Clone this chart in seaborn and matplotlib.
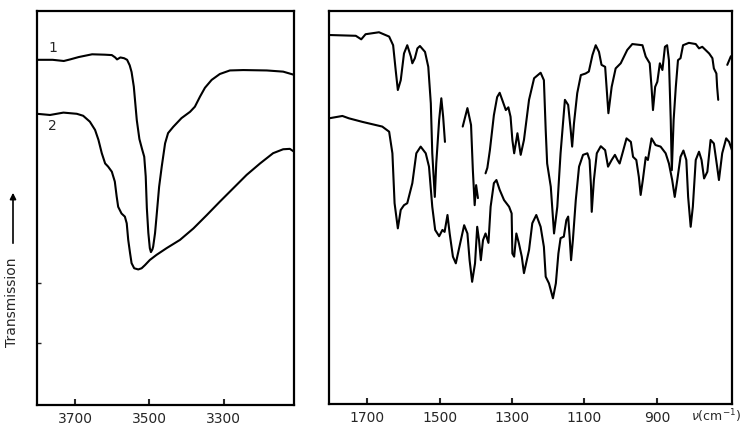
import seaborn as sns
import matplotlib.pyplot as plt
import pandas as pd

sns.set_style('white')
plt.rcParams['font.family'] = ['DejaVu Sans']

# --- O-H stretching region (left panel), wavenumber in cm-1, transmission in % of frame ---
oh_wn_1 = [3802, 3760, 3730, 3713, 3690, 3654, 3620, 3601, 3592, 3587, 3578, 3568,
           3560, 3553, 3548, 3542, 3534, 3527, 3520, 3514, 3510, 3507, 3503, 3499,
           3496, 3492, 3490, 3485, 3481, 3474, 3467, 3458, 3450, 3436, 3414, 3391,
           3378, 3364, 3351, 3333, 3311, 3284, 3248, 3185, 3141, 3112]
oh_tr_1 = [87.6, 87.6, 87.3, 87.7, 88.3, 89.0, 88.9, 88.8, 88.2, 87.7, 88.2, 88.0,
           87.6, 86.2, 84.5, 80.8, 72.3, 67.5, 65.0, 63.0, 58.0, 50.0, 43.7, 39.8,
           38.8, 39.5, 40.2, 43.6, 47.8, 55.4, 60.5, 66.4, 69.0, 70.6, 72.8, 74.4,
           75.7, 78.3, 80.5, 82.5, 84.0, 84.9, 85.0, 84.9, 84.6, 83.8]

oh_wn_2 = [3802, 3767, 3731, 3695, 3678, 3660, 3646, 3637, 3628, 3619, 3611, 3601,
           3593, 3588, 3584, 3575, 3566, 3561, 3557, 3552, 3548, 3541, 3530, 3521,
           3512, 3499, 3481, 3454, 3418, 3382, 3346, 3311, 3275, 3239, 3203, 3168,
           3141, 3123, 3112]
oh_tr_2 = [73.9, 73.6, 74.2, 73.9, 73.4, 71.9, 69.8, 67.3, 63.9, 61.3, 60.5, 59.2,
           56.7, 52.9, 50.3, 48.6, 47.8, 46.1, 41.9, 38.5, 36.0, 34.7, 34.4, 34.7,
           35.5, 36.8, 38.1, 39.8, 41.9, 44.8, 48.2, 51.6, 55.0, 58.4, 61.3, 63.9,
           64.9, 65.0, 64.3]

# --- fingerprint region (right panel), curve 1 is drawn in pieces ---
fp_wn_1a = [1805, 1731, 1716, 1704, 1667, 1639, 1628, 1621, 1615, 1607, 1598, 1589,
            1579, 1575, 1568, 1561, 1554, 1540, 1531, 1524, 1520, 1513, 1509, 1501,
            1495, 1490, 1485]
fp_tr_1a = [93.9, 93.7, 92.8, 94.1, 94.6, 93.5, 91.3, 85.0, 79.9, 82.4, 89.2, 91.3,
            88.4, 86.7, 88.0, 90.5, 91.1, 89.6, 85.8, 76.5, 63.8, 52.7, 61.2, 72.3,
            77.8, 73.1, 66.7]

fp_wn_1b = [1436, 1423, 1413, 1408, 1403, 1399, 1394]
fp_tr_1b = [70.6, 75.3, 71.0, 59.5, 50.6, 55.7, 52.4]

fp_wn_1c = [1373, 1368, 1361, 1350, 1341, 1334, 1327, 1317, 1310, 1304, 1299, 1294,
            1285, 1276, 1267, 1253, 1239, 1221, 1212, 1207, 1203, 1193, 1184, 1175,
            1166, 1154, 1145, 1138, 1134, 1129, 1120, 1110, 1097, 1088, 1078, 1069,
            1060, 1053, 1043, 1034, 1025, 1014, 1000, 982, 968, 940, 931, 920,
            915, 911, 905, 899, 892, 885, 878, 872, 867, 862, 859, 854,
            848, 842, 835, 828, 812, 793, 784, 775, 756, 747, 743, 736,
            734, 731]
fp_tr_1c = [58.7, 60.1, 64.6, 73.5, 78.1, 79.2, 77.4, 74.8, 75.5, 73.1, 67.2, 63.8,
            68.9, 63.4, 67.2, 77.4, 82.9, 84.3, 82.4, 69.7, 61.2, 55.3, 43.4, 50.2,
            63.8, 77.4, 76.1, 69.7, 65.5, 71.4, 79.1, 83.7, 84.1, 84.6, 88.8, 91.3,
            89.6, 86.3, 85.8, 74.0, 80.7, 85.4, 86.7, 90.1, 91.6, 91.3, 88.4, 86.7,
            80.7, 74.8, 80.7, 82.0, 86.7, 85.0, 90.9, 91.3, 87.5, 72.3, 59.5, 72.3,
            80.7, 87.5, 88.0, 91.3, 91.9, 91.6, 90.5, 90.9, 89.2, 88.0, 85.4, 84.1,
            80.7, 77.4]

fp_wn_1d = [706, 696, 690]
fp_tr_1d = [86.3, 88.5, 87.5]

fp_wn_2 = [1805, 1768, 1750, 1713, 1658, 1639, 1630, 1624, 1615, 1607, 1598, 1589,
           1575, 1564, 1552, 1538, 1529, 1520, 1512, 1501, 1492, 1486, 1478, 1472,
           1463, 1455, 1443, 1432, 1423, 1417, 1410, 1402, 1396, 1391, 1386, 1380,
           1373, 1365, 1359, 1350, 1343, 1334, 1322, 1308, 1301, 1299, 1294, 1288,
           1281, 1273, 1267, 1253, 1244, 1233, 1221, 1212, 1207, 1198, 1187, 1179,
           1172, 1166, 1157, 1150, 1145, 1141, 1137, 1132, 1124, 1115, 1104, 1092,
           1086, 1082, 1080, 1074, 1066, 1055, 1043, 1035, 1025, 1016, 1009, 1003,
           994, 984, 972, 966, 957, 950, 945, 939, 931, 925, 915, 904,
           890, 876, 867, 858, 851, 844, 835, 827, 819, 814, 807, 801,
           793, 784, 777, 770, 761, 752, 743, 734, 729, 720, 709, 701, 690]
fp_tr_2 = [72.7, 73.3, 72.7, 71.8, 70.6, 69.3, 63.8, 51.1, 44.7, 49.4, 50.6, 51.1,
           56.2, 63.8, 65.5, 63.8, 60.4, 50.2, 44.3, 42.7, 44.3, 43.8, 48.1, 43.4,
           37.5, 35.8, 40.9, 45.5, 43.4, 36.6, 31.1, 35.8, 45.1, 41.7, 36.6, 41.7,
           43.4, 41.0, 50.2, 56.2, 57.0, 54.5, 51.9, 50.2, 48.5, 38.3, 37.5, 43.4,
           40.9, 37.5, 33.3, 39.2, 46.0, 48.1, 45.1, 40.0, 32.4, 30.7, 26.9, 30.7,
           38.3, 42.2, 42.6, 46.8, 47.7, 42.6, 36.6, 41.7, 51.9, 60.4, 63.4, 63.8,
           62.1, 55.3, 48.9, 57.0, 63.8, 65.6, 64.6, 60.4, 62.1, 63.4, 62.1, 61.2,
           64.2, 67.6, 66.7, 62.9, 62.1, 57.8, 53.2, 57.0, 62.8, 62.1, 67.6, 65.9,
           65.5, 63.8, 61.2, 57.0, 52.7, 57.0, 62.9, 64.5, 62.1, 52.7, 45.1, 50.2,
           62.1, 64.2, 62.1, 57.4, 59.1, 67.2, 66.3, 60.4, 57.0, 63.8, 67.6, 66.7, 63.8]

oh_ticks = [3700, 3500, 3300]
fp_ticks = [1700, 1500, 1300, 1100, 900]
oh_minor_y = [15.7, 31.0]

fig = plt.figure(figsize=(7.47, 4.26), dpi=100)
ax1 = fig.add_axes([0.0495, 0.0493, 0.344, 0.925])
ax2 = fig.add_axes([0.4404, 0.0516, 0.5395, 0.9225])

lw = 1.5
segments_left = [(oh_wn_1, oh_tr_1), (oh_wn_2, oh_tr_2)]
segments_right = [(fp_wn_1a, fp_tr_1a), (fp_wn_1b, fp_tr_1b), (fp_wn_1c, fp_tr_1c),
                  (fp_wn_1d, fp_tr_1d), (fp_wn_2, fp_tr_2)]

for ax, segs in [(ax1, segments_left), (ax2, segments_right)]:
    for wn, tr in segs:
        df = pd.DataFrame({'wn': wn, 'tr': tr})
        sns.lineplot(data=df, x='wn', y='tr', ax=ax, color='black', lw=lw,
                     sort=False, estimator=None, solid_joinstyle='round',
                     solid_capstyle='round')

ax1.set_xlim(3802, 3112)
ax2.set_xlim(1805, 693)
for ax in (ax1, ax2):
    ax.set_ylim(0, 100)
    ax.set_xlabel('')
    ax.set_ylabel('')
    for s in ax.spines.values():
        s.set_linewidth(1.6)
        s.set_color('black')
    ax.tick_params(axis='x', direction='in', length=4, width=1.5, pad=5,
                   labelsize=10, bottom=True)

ax1.set_xticks(oh_ticks)
ax1.set_xticklabels([str(t) for t in oh_ticks])
ax1.set_yticks(oh_minor_y)
ax1.set_yticklabels([])
ax1.tick_params(axis='y', direction='in', length=3, width=1, left=True)
ax2.set_xticks(fp_ticks)
ax2.set_xticklabels([str(t) for t in fp_ticks])
ax2.set_yticks([])

ax1.text(3759, 90.6, '1', fontsize=10, ha='center', va='center')
ax1.text(3761, 70.8, '2', fontsize=10, ha='center', va='center')

fig.text(741 / 747, 1 - 416 / 426, r'$\nu$(cm$^{-1}$)', fontsize=9,
         ha='right', va='center')
fig.text(12 / 747, 1 - 302 / 426, 'Transmission', rotation=90, fontsize=10,
         ha='center', va='center')
fig.add_artist(plt.matplotlib.patches.FancyArrowPatch(
    (13 / 747, 1 - 246 / 426), (13 / 747, 1 - 190 / 426),
    transform=fig.transFigure, arrowstyle='-|>', mutation_scale=9,
    color='black', lw=1.2))

fig.savefig('out.png', dpi=100)
plt.close(fig)
